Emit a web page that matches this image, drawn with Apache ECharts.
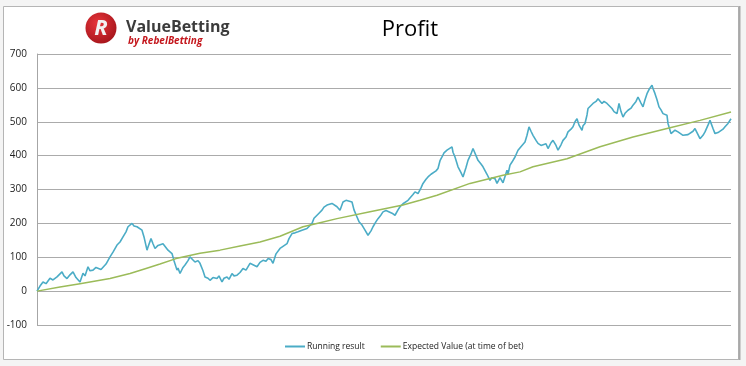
<!DOCTYPE html>
<html>
<head>
<meta charset="utf-8">
<script src="https://cdn.jsdelivr.net/npm/echarts@6/dist/echarts.min.js"></script>
<style>
html,body{margin:0;padding:0;background:#f4f4f4;}
#chart{width:746px;height:366px;}
</style>
</head>
<body>
<div id="chart"></div>
<script>
// Data
var titleText = 'Profit';
var seriesNames = ['Running result', 'Expected Value (at time of bet)'];
var yTicks = [-100, 0, 100, 200, 300, 400, 500, 600, 700];

var runningBets = [0,3,6,9,13,16,20,22,25,27,30,33,36,39,43,46,48,51,53,56,59,61,64,66,69,73,76,80,83,86,89,91,95,97,100,102,105,107,110,111,114,116,118,121,123,126,128,131,135,137,140,141,143,146,148,151,153,156,158,161,163,166,168,171,173,176,180,182,185,187,190,192,195,197,200,203,206,209,213,216,220,223,226,229,231,234,236,239,243,246,250,252,255,258,261,265,270,272,275,277,280,282,285,287,290,292,295,297,300,303,306,309,311,315,317,320,322,325,328,331,334,336,339,341,344,346,349,351,355,358,361,363,366,368,371,373,376,378,381,384,386,389,391,394,396,399,401,403,405,407,410,412,415,416,418,421,424,426,429,431,434,436,439,441,444,446,450,453,455,458,460,463,466,470,471,473,475,478,481,483,485,488,490,492,494,496,499,501,504,506,509,511,514,516,519,521,524,526,529,531,534,536,538,540,542,545,546,548,550,551,554,556,559,561,565,567,570,572,575,577,580,582,584,586,588,591,594,596,599,601,604,606,608,610,612,615,616,618,620,622,624,626,628,630,631,634,636,638,641,643,646,648,651,653,656,658,661,663,666,668,671,673,676,678,681,683,686,688,691,694];
var runningValues = [0,15,27,22,38,33,42,38,57,45,37,48,57,40,27,53,45,72,60,62,70,72,64,67,80,101,115,136,145,160,175,190,200,192,190,185,180,160,121,130,155,140,126,135,136,140,145,121,111,90,62,68,52,70,77,90,101,92,86,90,82,60,42,38,32,40,37,45,27,38,42,35,52,45,47,55,67,62,82,78,72,85,91,88,96,93,82,110,126,132,140,155,170,172,175,180,185,190,200,215,224,230,239,248,254,258,259,255,249,239,263,268,273,263,240,219,205,195,180,165,178,190,205,214,225,234,238,239,230,224,240,249,258,263,268,273,285,293,288,305,318,330,337,345,347,355,362,385,396,408,416,420,426,410,396,367,350,337,365,386,405,421,400,386,375,367,345,327,335,332,318,335,320,357,345,372,381,396,416,421,430,440,460,485,472,460,445,436,430,426,435,421,438,445,430,416,432,445,455,470,478,485,500,509,490,475,488,495,520,539,548,554,560,568,554,560,554,548,539,530,524,554,530,514,525,534,540,549,560,573,555,544,565,583,595,608,598,583,565,544,535,524,522,519,495,465,470,475,470,465,460,455,462,465,472,480,462,450,460,470,490,504,480,465,468,470,478,485,495,509];

var evBets = [0,23,43,73,93,109,123,139,163,183,203,223,243,266,283,300,333,366,383,400,433,466,483,496,530,563,596,630,663,694];
var evValues = [0,12,22,37,52,67,80,96,112,121,133,145,162,190,202,214,234,254,268,283,318,342,352,367,391,426,455,480,504,529];

function pairs(xs, ys){ var out=[]; for(var i=0;i<xs.length;i++){ out.push([xs[i], ys[i]]); } return out; }

var chart = echarts.init(document.getElementById('chart'), null, {renderer:'canvas'});
var font = '"Open Sans", sans-serif';
chart.setOption({
  backgroundColor: '#f4f4f4',
  animation: false,
  title: {
    text: titleText,
    left: 405, top: 14, textAlign: 'center',
    textStyle: {fontFamily: font, fontSize: 22, fontWeight: 'normal', color: '#000'}
  },
  graphic: [
    {type:'rect', z:-100, shape:{x:3.5, y:6.5, width:735, height:353}, style:{fill:'#fff', stroke:'#b5b5b5', lineWidth:1}},
    {type:'line', z:-99, shape:{x1:739.5, y1:6, x2:739.5, y2:360}, style:{stroke:'#a8a8a8', lineWidth:2}},
    {type:'circle', shape:{cx:101, cy:28, r:15.5}, style:{fill:{type:'radial', x:0.4, y:0.35, r:0.7, colorStops:[{offset:0,color:'#e8353b'},{offset:1,color:'#a5151b'}]}}},
    {type:'text', x:101, y:29, style:{text:'R', fill:'#f2f2f2', font:'italic bold 22px "Open Sans", sans-serif', align:'center', verticalAlign:'middle'}},
    {type:'text', x:126, y:27, style:{text:'ValueBetting', fill:'#3b3b3b', font:'bold 16px "Open Sans", sans-serif', verticalAlign:'middle'}},
    {type:'text', x:128, y:41, style:{text:'by RebelBetting', fill:'#c4161c', font:'italic bold 10px "Open Sans", sans-serif', verticalAlign:'middle'}}
  ],
  legend: {
    left: 280, top: 337,
    itemWidth: 20, itemHeight: 2, itemGap: 16,
    icon: 'rect',
    textStyle: {fontFamily: font, fontSize: 8.5, color: '#222', padding:[0,0,0,-3]},
    data: seriesNames
  },
  grid: {left: 37, right: 15, top: 54, bottom: 41, containLabel: false},
  xAxis: {
    type: 'value', min: 0, max: 694, show: false
  },
  yAxis: {
    type: 'value', min: yTicks[0], max: yTicks[yTicks.length-1], interval: 100,
    axisLine: {show: true, lineStyle: {color: '#a6a6a6', width: 1}},
    axisTick: {show: false},
    axisLabel: {fontFamily: font, fontSize: 10, color: '#222', margin: 10},
    splitLine: {show: true, lineStyle: {color: '#ababab', width: 1}}
  },
  series: [
    {name: seriesNames[0], type: 'line', data: pairs(runningBets, runningValues), showSymbol: false, symbol:'none',
     lineStyle: {color: '#4bacc6', width: 1.6}, itemStyle:{color:'#4bacc6'}, z: 3},
    {name: seriesNames[1], type: 'line', data: pairs(evBets, evValues), showSymbol: false, symbol:'none',
     lineStyle: {color: '#9bbb59', width: 1.5}, itemStyle:{color:'#9bbb59'}, z: 4}
  ]
});
</script>
</body>
</html>
